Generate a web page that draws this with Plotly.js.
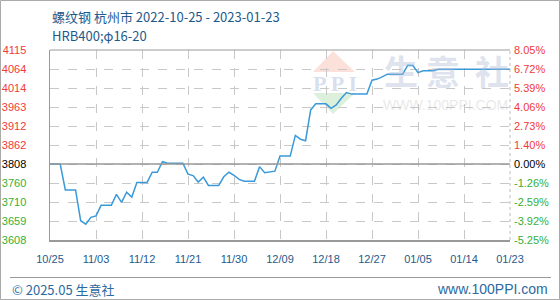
<!DOCTYPE html>
<html><head><meta charset="utf-8">
<script src="https://cdn.plot.ly/plotly-3.0.1.min.js"></script>
<style>html,body{margin:0;padding:0;background:#fff}#chart{width:560px;height:300px}</style>
</head><body><div id="chart"></div>
<script>
// ---- data ----
const dates = ['2022-10-25','2022-10-27','2022-10-28','2022-10-30','2022-10-31','2022-11-01','2022-11-02','2022-11-03','2022-11-04','2022-11-06','2022-11-07','2022-11-08','2022-11-09','2022-11-10','2022-11-11','2022-11-13','2022-11-14','2022-11-15','2022-11-16','2022-11-17','2022-11-20','2022-11-21','2022-11-22','2022-11-23','2022-11-24','2022-11-25','2022-11-27','2022-11-28','2022-11-29','2022-11-30','2022-12-01','2022-12-02','2022-12-04','2022-12-05','2022-12-06','2022-12-07','2022-12-08','2022-12-09','2022-12-11','2022-12-12','2022-12-13','2022-12-14','2022-12-15','2022-12-16','2022-12-18','2022-12-19','2022-12-20','2022-12-21','2022-12-22','2022-12-23','2022-12-26','2022-12-27','2022-12-28','2022-12-29','2022-12-30','2023-01-02','2023-01-03','2023-01-04','2023-01-05','2023-01-06','2023-01-08','2023-01-09','2023-01-23'];
const prices = [3808,3808,3739,3739,3657,3648,3666,3670,3698,3698,3727,3706,3733,3720,3759,3759,3786,3786,3814,3810,3810,3781,3777,3760,3773,3751,3751,3774,3786,3778,3767,3762,3762,3801,3785,3788,3789,3829,3829,3884,3874,3870,3952,3968,3968,3956,3965,3983,3998,3994,3994,4031,4034,4040,4047,4047,4071,4070,4051,4056,4056,4060,4060];
const xTickDates = ['2022-10-25','2022-11-03','2022-11-12','2022-11-21','2022-11-30','2022-12-09','2022-12-18','2022-12-27','2023-01-05','2023-01-14','2023-01-23'];
const xTickLabels = ['10/25','11/03','11/12','11/21','11/30','12/09','12/18','12/27','01/05','01/14','01/23'];
const yTickLabels = ['3608','3659','3710','3760','3808','3862','3912','3963','4014','4064','4115'];
const pctTickLabels = ['-5.25%','-3.92%','-2.59%','-1.26%','0.00%','1.40%','2.73%','4.06%','5.39%','6.72%','8.05%'];
const basePrice = 3808;
const titleText = '螺纹钢 杭州市 2022-10-25 - 2023-01-23';
const subtitleText = 'HRB400;φ16-20';
const footerLeft = '© 2025.05 生意社';
const footerRight = 'www.100PPI.com';
const wmChars = ['生','意','社'];
const wmUrl = 'WWW.100PPI.COM';
const wmLogo = 'P P I';

// ---- layout helpers ----
const L = 50, R = 510, T = 50, B = 240;
const X = px => (px - L) / (R - L);
const Y = py => (B - py) / (B - T);
const step = 50.56;
const tickVals = yTickLabels.map((_, i) => basePrice + (i - 4) * step);
const RED = '#f03a3a', GREEN = '#34b034', BLACK = '#000';
const colorFor = i => i < 4 ? GREEN : (i === 4 ? BLACK : RED);
const yText = yTickLabels.map((t, i) => `<span style="color:${colorFor(i)}">${t}</span>`);
const pText = pctTickLabels.map((t, i) => `<span style="color:${colorFor(i)}">${t}</span>`);

const trace = {
  x: dates, y: prices, type: 'scatter', mode: 'lines',
  line: {color: '#3a9ad9', width: 1.5}, hoverinfo: 'skip'
};
const ghost = {x: [dates[0]], y: [basePrice], yaxis: 'y2', mode: 'none', type: 'scatter', showlegend: false, hoverinfo: 'skip'};

const FONT = 'Liberation Sans, Arial, sans-serif';
const CJK = 'Noto Sans CJK SC, sans-serif';
const yrange = [basePrice - 4 * step, basePrice + 6 * step];

const shapes = [
  {type: 'rect', xref: 'paper', yref: 'paper', x0: X(0.5), x1: X(559.5), y0: Y(299.5), y1: Y(0.5), line: {color: '#aaa', width: 1}},
  {type: 'line', xref: 'paper', yref: 'paper', x0: X(10), x1: X(551), y0: Y(277.5), y1: Y(277.5), line: {color: '#999', width: 1}},
  {type: 'line', xref: 'paper', yref: 'paper', x0: 0, x1: 1, y0: 1, y1: 1, line: {color: '#9a9a9a', width: 1}},
  {type: 'line', xref: 'paper', yref: 'paper', x0: 1, x1: 1, y0: 0, y1: 1, line: {color: '#bbb', width: 1, dash: 'dot'}},
  {type: 'line', xref: 'paper', yref: 'y', x0: 0, x1: 1, y0: basePrice, y1: basePrice, line: {color: '#999', width: 1.5}},
  {type: 'path', xref: 'paper', yref: 'paper', layer: 'below',
   path: `M ${X(313)} ${Y(72)} L ${X(333)} ${Y(51)} L ${X(355)} ${Y(72)} Z`, fillcolor: '#fbe1da', line: {width: 0}},
  {type: 'path', xref: 'paper', yref: 'paper', layer: 'below',
   path: `M ${X(313)} ${Y(93)} L ${X(355)} ${Y(93)} L ${X(333)} ${Y(114)} Z`, fillcolor: '#dcf0dc', line: {width: 0}}
];

const annotations = [
  {text: titleText, xref: 'paper', yref: 'paper', x: X(50), y: Y(17), xanchor: 'left', yanchor: 'middle', showarrow: false,
   font: {family: CJK, size: 13, color: '#1e5a8c'}},
  {text: subtitleText, xref: 'paper', yref: 'paper', x: X(50), y: Y(35), xanchor: 'left', yanchor: 'middle', showarrow: false,
   font: {family: CJK, size: 13, color: '#1e5a8c'}},
  {text: footerLeft, xref: 'paper', yref: 'paper', x: X(10), y: Y(289), xanchor: 'left', yanchor: 'middle', showarrow: false,
   font: {family: CJK, size: 13, color: '#2c6aa0'}},
  {text: footerRight, xref: 'paper', yref: 'paper', x: X(550), y: Y(289), xanchor: 'right', yanchor: 'middle', showarrow: false,
   font: {family: FONT, size: 14, color: '#2c6aa0'}},
  {text: wmUrl, xref: 'paper', yref: 'paper', x: X(445), y: Y(105), xanchor: 'center', yanchor: 'middle', showarrow: false,
   font: {family: FONT, size: 14, color: 'rgba(190,190,190,0.35)'}},
  {text: '<b>' + wmLogo + '</b>', xref: 'paper', yref: 'paper', x: X(335), y: Y(83), xanchor: 'center', yanchor: 'middle', showarrow: false,
   font: {family: 'Liberation Serif, serif', size: 22, color: 'rgba(170,185,215,0.45)'}}
];
const wmX = [401, 442.5, 491.5];
wmChars.forEach((c, i) => annotations.push({
  text: '<b>' + c + '</b>', xref: 'paper', yref: 'paper', x: X(wmX[i]), y: Y(70), xanchor: 'center', yanchor: 'middle', showarrow: false,
  font: {family: CJK, size: 34, color: 'rgba(175,188,215,0.42)'}
}));

const layout = {
  width: 560, height: 300,
  margin: {l: L, r: 560 - R, t: T, b: 300 - B, pad: 0},
  paper_bgcolor: '#fff', plot_bgcolor: 'rgba(0,0,0,0)',
  showlegend: false,
  xaxis: {
    type: 'date', range: [xTickDates[0], xTickDates[xTickDates.length - 1]],
    tickmode: 'array', tickvals: xTickDates, ticktext: xTickLabels,
    showgrid: true, gridcolor: '#c8c8c8', griddash: 'dash', gridwidth: 1,
    showline: true, linecolor: '#999', linewidth: 1.5,
    ticks: '', ticklabelstandoff: 8, zeroline: false,
    tickfont: {family: FONT, size: 11, color: '#1e5a8c'}, fixedrange: true
  },
  yaxis: {
    range: yrange, tickmode: 'array', tickvals: tickVals, ticktext: yText,
    showgrid: true, gridcolor: '#c8c8c8', griddash: 'dash', gridwidth: 1,
    showline: true, linecolor: '#999', linewidth: 1.5,
    ticks: '', ticklabelstandoff: 20, zeroline: false,
    tickfont: {family: FONT, size: 11}, fixedrange: true
  },
  yaxis2: {
    overlaying: 'y', side: 'right', range: yrange, tickmode: 'array', tickvals: tickVals, ticktext: pText,
    showgrid: false, showline: false, ticks: '', ticklabelstandoff: 3, zeroline: false,
    tickfont: {family: FONT, size: 11}, fixedrange: true
  },
  shapes: shapes,
  annotations: annotations
};

Plotly.newPlot('chart', [trace, ghost], layout, {displayModeBar: false, staticPlot: true});
</script></body></html>
